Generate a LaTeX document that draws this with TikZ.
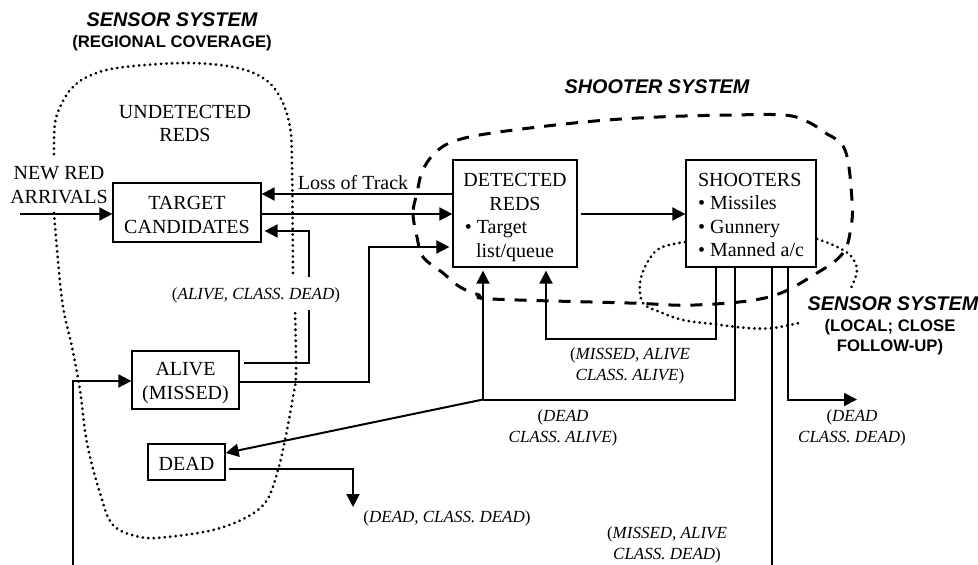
\documentclass[tikz,border=0pt]{standalone}
\usepackage{fontspec}
\setmainfont{Liberation Serif}
\newfontfamily\headfont{Liberation Sans}
\usetikzlibrary{arrows.meta}
\newcommand\topfill[1]{\rule{0pt}{#1}}
\tikzset{
  box/.style={draw,line width=1.3pt,inner sep=0pt,align=center,font=\fontsize{20}{23.6}\selectfont},
  flow/.style={line width=2pt,-{Triangle[length=13pt,width=13pt]}},
  plain/.style={line width=2pt},
  lbl/.style={inner sep=0pt,align=center,font=\fontsize{17}{21}\selectfont},
  txt/.style={inner sep=0pt,align=center,font=\fontsize{20}{23.6}\selectfont},
  head/.style={inner sep=0pt,align=center,font=\fontsize{19.8}{24}\selectfont\headfont\bfseries\itshape},
  sub/.style={inner sep=0pt,align=center,font=\fontsize{16.7}{20}\selectfont\headfont\bfseries},
  dots/.style={line width=3pt,line cap=round,dash pattern=on 0.1pt off 5.4pt},
  dashy/.style={line width=3pt,dash pattern=on 12pt off 10pt},
}
\begin{document}
\begin{tikzpicture}[x=1pt,y=-1pt]
\useasboundingbox (0,0) rectangle (978,565);
% boxes
\node[box,minimum width=148pt,minimum height=59pt] (tc) at (187,212.5) {\topfill{18pt}TARGET\\CANDIDATES};
\node[box,minimum width=124pt,minimum height=107pt] (dr) at (515,213.5) {\topfill{21pt}DETECTED\\REDS\\\textbullet\ Target\rule{38pt}{0pt}\\list/queue};
\node[box,minimum width=130pt,minimum height=107pt,align=left] (sh) at (751,213.5) {\topfill{16pt}SHOOTERS\\\textbullet\ Missiles\\\textbullet\ Gunnery\\\textbullet\ Manned a/c};
\node[box,minimum width=107pt,minimum height=58pt] (am) at (185.5,380) {\topfill{19pt}ALIVE\\(MISSED)};
\node[box,minimum width=77pt,minimum height=36pt] (dd) at (186.5,462) {\topfill{17pt}DEAD};
% region outlines
\draw[dots] plot[smooth,tension=0.6] coordinates {(54,213) (62,300) (72,347) (80,390) (87,443) (100,493) (113,525) (140,537) (167,537) (213,530) (247,517) (267,500) (278,470) (285,440) (293,397) (296,373) (295,310)};
\draw[dots] plot[smooth,tension=0.6] coordinates {(293,273) (292,167) (290,127) (280,97) (263,78) (233,67) (183,63) (117,68) (87,77) (72,88) (62,103) (55,123) (54,157)};
\draw[dashy] plot[smooth cycle,tension=0.6] coordinates {(417,193) (413,213) (417,237) (423,257) (443,273) (460,287) (479,295) (492,299) (629,303) (695,305) (769,297) (817,273) (843,253) (851,227) (852,200) (845,150) (824,132) (806,121) (784,115) (732,115) (658,117) (584,122) (492,133) (452,142) (433,155) (422,172)};
\draw[dots] plot[smooth,tension=0.6] coordinates {(685,242) (660,248) (647,263) (640,283) (643,303) (660,312) (683,320) (713,324) (747,328) (773,328) (803,322)};
\draw[dots] plot[smooth,tension=0.6] coordinates {(817,239) (833,245) (850,255) (857,270) (851,288)};
% free texts
\node[txt] (und) at (185,123.5) {UNDETECTED\\REDS};
\node[txt] (nra) at (59,185) {NEW RED\\ARRIVALS};
\node[txt] (lot) at (353,183) {Loss of Track};
\node[head] (h1) at (172,20) {SENSOR SYSTEM};
\node[sub] (s1) at (172,43) {(REGIONAL COVERAGE)};
\node[head] (h2) at (657,87) {SHOOTER SYSTEM};
\node[head] (h3) at (893,304) {SENSOR SYSTEM};
\node[sub] (s3) at (890,337) {(LOCAL; CLOSE\\FOLLOW-UP)};
\node[lbl] (l1) at (256,295) {(\textit{ALIVE, CLASS. DEAD})};
\node[lbl] (l2) at (630,365.5) {(\textit{MISSED, ALIVE}\\\textit{CLASS. ALIVE})};
\node[lbl] (l3) at (563,427.5) {(\textit{DEAD}\\\textit{CLASS. ALIVE})};
\node[lbl] (l4) at (852,427.5) {(\textit{DEAD}\\\textit{CLASS. DEAD})};
\node[lbl] (l5) at (447,518) {(\textit{DEAD, CLASS. DEAD})};
\node[lbl] (l6) at (667,544.5) {(\textit{MISSED, ALIVE}\\\textit{CLASS. DEAD})};
% named points
\coordinate (inA) at (20,214);
\coordinate (t1) at (0,194);
\coordinate (t2) at (0,214);
\coordinate (retA) at (309,231);
\coordinate (retB) at (309,277);
\coordinate (retC) at (309,310);
\coordinate (retD) at (309,363);
\coordinate (cA) at (369,382);
\coordinate (cB) at (369,247);
\coordinate (mA) at (716,339);
\coordinate (mB) at (546,339);
\coordinate (dA) at (735,399.5);
\coordinate (dB) at (483,399.5);
\coordinate (dC) at (788,399.5);
\coordinate (dD) at (857,399.5);
\coordinate (eA) at (772,565);
\coordinate (bA) at (73,565);
\coordinate (bB) at (73,381);
\coordinate (xA) at (353,469);
\coordinate (xB) at (353,507);
% connectors
\draw[flow] (inA) -- (tc.west |- inA);
\draw[flow] (dr.west |- t1) -- (tc.east |- t1);
\draw[flow] (tc.east |- t2) -- (dr.west |- t2);
\draw[plain] ([xshift=4pt]retD -| am.east) -- (retD) -- (retC);
\draw[flow] (retB) -- (retA) -- ([xshift=3pt]retA -| tc.east);
\draw[flow] (cA -| am.east) -- (cA) -- (cB) -- ([xshift=-3pt]cB -| dr.west);
\draw[flow] ([xshift=3pt]dr.east |- t2) -- (sh.west |- t2);
\draw[flow] (mA |- sh.south) -- (mA) -- (mB) -- ([yshift=-3pt]mB |- dr.south);
\draw[plain] (dA |- sh.south) -- (dA) -- (dB);
\draw[flow] (dB) -- ([yshift=-3pt]dB |- dr.south);
\draw[flow] (dB) -- ([yshift=9pt]dd.east);
\draw[flow] (dC |- sh.south) -- (dC) -- (dD);
\draw[plain] (eA |- sh.south) -- (eA);
\draw[flow] (bA) -- (bB) -- (bB -| am.west);
\draw[flow] ([xshift=3pt]dd.east |- xA) -- (xA) -- (xB);
\end{tikzpicture}
\end{document}
